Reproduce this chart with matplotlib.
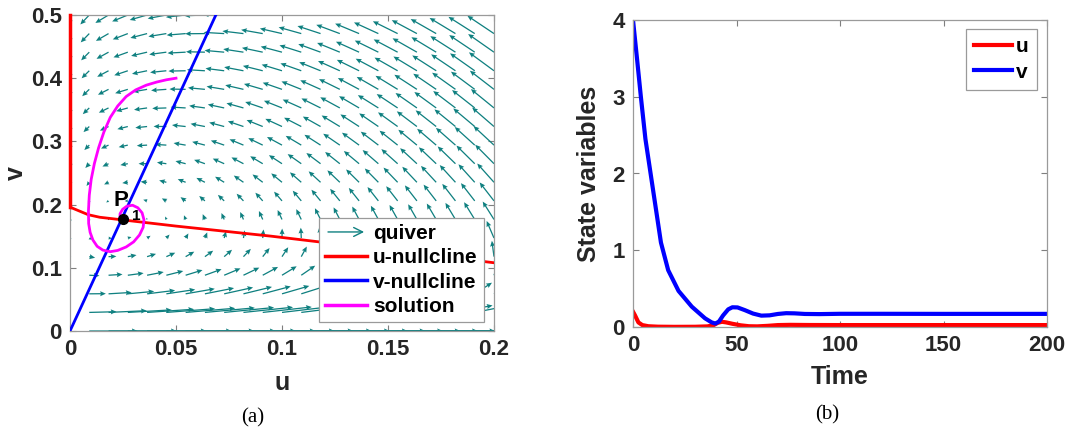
import matplotlib
matplotlib.use("Agg")
import matplotlib.pyplot as plt
import numpy as np
from matplotlib.lines import Line2D
from matplotlib.patches import FancyArrowPatch
from matplotlib.legend_handler import HandlerBase

plt.rcParams['font.family'] = ['Liberation Sans', 'DejaVu Sans']
plt.rcParams['font.weight'] = 'bold'

teal = '#0f8080'

# ---- panel (a) : phase plane ----
# u-nullcline, plus the u = 0 branch above it
unull_u = [0.0, 0.0086, 0.014, 0.05, 0.095, 0.12, 0.16, 0.2]
unull_v = [0.196, 0.184, 0.180, 0.166, 0.150, 0.140, 0.124, 0.108]
unull_axis_u = [0.0, 0.0]
unull_axis_v = [0.196, 0.5]
# v-nullcline
vnull_u = [0.0, 0.0688]
vnull_v = [0.0, 0.5]
# trajectory
sol_u = [0.0500, 0.0455, 0.0410, 0.0360, 0.0310, 0.0265, 0.0225, 0.0190, 0.0160, 0.0135,
         0.0115, 0.0100, 0.0091, 0.0087, 0.0088, 0.0095, 0.0108, 0.0128, 0.0155, 0.0190,
         0.0225, 0.0265, 0.0300, 0.0328, 0.0345, 0.0349, 0.0340, 0.0320, 0.0295, 0.0268,
         0.0248, 0.0236, 0.0236, 0.0249]
sol_v = [0.4000, 0.3975, 0.3940, 0.3890, 0.3815, 0.3710, 0.3560, 0.3380, 0.3150, 0.2900,
         0.2650, 0.2400, 0.2150, 0.1900, 0.1700, 0.1560, 0.1440, 0.1340, 0.1280, 0.1255,
         0.1275, 0.1330, 0.1410, 0.1520, 0.1640, 0.1760, 0.1870, 0.1950, 0.1990, 0.1975,
         0.1925, 0.1855, 0.1790, 0.1765]
P1 = (0.0249, 0.1765)

# model used for the direction field (prey u, ratio dependent predator v)
k_prey = 0.0568
m_prey = 0.015
e_prey = 0.06
d_pred = 0.1
a_pred = 2.0
slope_vnull = 0.5 / 0.0688
c_pred = d_pred * (1 + slope_vnull * a_pred)
arrow_size = 2.6

# ---- panel (b) : time series ----
t_v = [0, 2, 3.8, 6, 8.5, 11, 13.5, 17, 22, 28.4, 34.8, 38, 39.8, 41.5, 43.5, 46, 48,
       50.5, 54, 58, 62, 66, 70, 74, 78, 83, 90, 100, 120, 150, 200]
v_t = [4.0, 3.48, 3.0, 2.45, 2.0, 1.55, 1.1, 0.74, 0.47, 0.265, 0.113, 0.06, 0.045, 0.07,
       0.15, 0.23, 0.257, 0.255, 0.22, 0.175, 0.148, 0.152, 0.17, 0.18, 0.178, 0.17,
       0.168, 0.172, 0.172, 0.171, 0.171]
t_u = [0, 1, 2.6, 4.5, 7.4, 12, 20, 30, 36, 39, 41, 43, 45, 48, 52, 56, 60, 65, 70, 76,
       85, 100, 150, 200]
u_t = [0.2, 0.15, 0.06, 0.025, 0.01, 0.004, 0.002, 0.003, 0.008, 0.025, 0.055, 0.068,
       0.06, 0.042, 0.022, 0.01, 0.008, 0.015, 0.025, 0.028, 0.026, 0.025, 0.025, 0.025]


class ArrowHandler(HandlerBase):
    def create_artists(self, legend, orig, xd, yd, w, h, fontsize, trans):
        a = FancyArrowPatch((xd, yd + h / 2), (xd + w, yd + h / 2), arrowstyle='->',
                            mutation_scale=16, color=teal, lw=1.0)
        a.set_transform(trans)
        return [a]


def style_axes(ax):
    ax.tick_params(direction='in', top=True, right=True, length=4, width=0.8,
                   colors='#7f7f7f', labelcolor='#262626', labelsize=16, pad=6)
    for s in ax.spines.values():
        s.set_color('#9a9a9a')
        s.set_linewidth(0.9)
    for lab in ax.get_xticklabels() + ax.get_yticklabels():
        lab.set_fontweight('bold')


fig = plt.figure(figsize=(10.72, 4.36), dpi=100)

ax1 = fig.add_axes([70 / 1072, 105 / 436, 424 / 1072, 316 / 436])
uu = np.linspace(0, 0.2, 23)
vv = np.linspace(0, 0.5, 18)
U, V = np.meshgrid(uu, vv)
G = np.interp(U, unull_u, unull_v)
dU = k_prey * U / (U + m_prey) * (G - V) / (V + e_prey)
den = U + a_pred * V
den[den == 0] = 1.0
dV = V * (-d_pred + c_pred * U / den)
dx = uu[1] - uu[0]
dy = vv[1] - vv[0]
norm = np.sqrt((dU / dx) ** 2 + (dV / dy) ** 2)
sc = arrow_size / norm[1:].max()
ax1.quiver(U, V, dU * sc, dV * sc, angles='xy', scale_units='xy', scale=1,
           color=teal, width=0.003, headwidth=4, headlength=4.5, headaxislength=4,
           zorder=2)
ax1.plot(unull_u, unull_v, color='#ff0000', lw=2, zorder=3)
ax1.plot(unull_axis_u, unull_axis_v, color='#ff0000', lw=2.5, zorder=3, clip_on=False)
ax1.plot(vnull_u, vnull_v, color='#0000ff', lw=2, zorder=3)
ax1.plot(sol_u, sol_v, color='#ff00ff', lw=2, zorder=4)
ax1.plot(P1[0], P1[1], 'o', color='black', ms=7, zorder=5)
ax1.text(0.0240, 0.206, 'P', fontsize=16, fontweight='bold', ha='center', va='center', zorder=6)
ax1.text(0.0313, 0.182, '1', fontsize=11, fontweight='bold', ha='center', va='center', zorder=6)
ax1.set_xlim(0, 0.2)
ax1.set_ylim(0, 0.5)
ax1.set_xticks([0, 0.05, 0.1, 0.15, 0.2])
ax1.set_xticklabels(['0', '0.05', '0.1', '0.15', '0.2'])
ax1.set_yticks([0, 0.1, 0.2, 0.3, 0.4, 0.5])
ax1.set_yticklabels(['0', '0.1', '0.2', '0.3', '0.4', '0.5'])
ax1.set_xlabel('u', fontsize=18, fontweight='bold', color='#262626', labelpad=8)
ax1.set_ylabel('v', fontsize=18, fontweight='bold', color='#262626', labelpad=2)
style_axes(ax1)

proxy = Line2D([], [], color=teal)
h_u = Line2D([], [], color='#ff0000', lw=2.5)
h_v = Line2D([], [], color='#0000ff', lw=2.5)
h_s = Line2D([], [], color='#ff00ff', lw=2.5)
leg1 = ax1.legend([proxy, h_u, h_v, h_s], ['quiver', 'u-nullcline', 'v-nullcline', 'solution'],
                  handler_map={proxy: ArrowHandler()}, loc='upper right',
                  bbox_to_anchor=(484 / 1072, 1 - 218 / 436), bbox_transform=fig.transFigure,
                  borderaxespad=0, fancybox=False, framealpha=1, edgecolor='#9a9a9a',
                  prop={'size': 15, 'weight': 'bold'}, handlelength=2.0, handletextpad=0.3,
                  labelspacing=0.25, borderpad=0.3)
leg1.get_frame().set_linewidth(0.9)
leg1.set_zorder(10)

ax2 = fig.add_axes([633 / 1072, 109 / 436, 414 / 1072, 307 / 436])
ax2.plot(t_u, u_t, color='#ff0000', lw=3, label='u')
ax2.plot(t_v, v_t, color='#0000ff', lw=3, label='v')
ax2.set_xlim(0, 200)
ax2.set_ylim(0, 4)
ax2.set_xticks([0, 50, 100, 150, 200])
ax2.set_yticks([0, 1, 2, 3, 4])
ax2.set_xlabel('Time', fontsize=18, fontweight='bold', color='#262626', labelpad=6)
ax2.set_ylabel('State variables', fontsize=18, fontweight='bold', color='#262626', labelpad=8)
style_axes(ax2)
leg2 = ax2.legend(loc='upper right', bbox_to_anchor=(1037 / 1072, 1 - 29 / 436),
                  bbox_transform=fig.transFigure, borderaxespad=0, fancybox=False,
                  framealpha=1, edgecolor='#9a9a9a', prop={'size': 15, 'weight': 'bold'},
                  handlelength=1.8, handletextpad=0.2, labelspacing=0.3, borderpad=0.4)
leg2.get_frame().set_linewidth(0.9)

fig.text(253 / 1072, 1 - 418 / 436, '(a)', fontsize=15, family='Liberation Serif',
         fontweight='normal', ha='center', va='center')
fig.text(827 / 1072, 1 - 415 / 436, '(b)', fontsize=15, family='Liberation Serif',
         fontweight='normal', ha='center', va='center')

plt.savefig('out.png', dpi=100)
